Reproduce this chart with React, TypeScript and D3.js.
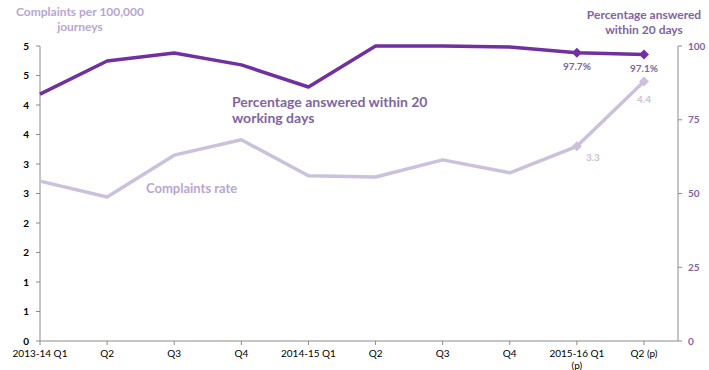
import React from "react";
import * as d3 from "d3";

const categories = ["2013-14 Q1", "Q2", "Q3", "Q4", "2014-15 Q1", "Q2", "Q3", "Q4", "2015-16 Q1|(p)", "Q2 (p)"];
const complaintsRate = [2.71, 2.44, 3.15, 3.41, 2.8, 2.78, 3.07, 2.85, 3.3, 4.4];
const pctAnswered = [83.7, 94.9, 97.6, 93.6, 86.1, 100, 100, 99.7, 97.7, 97.1];
const leftTicks = [0, 0.5, 1, 1.5, 2, 2.5, 3, 3.5, 4, 4.5, 5];
const rightTicks = [0, 25, 50, 75, 100];

const DARK = "#7030a0";
const LIGHT = "#ccc1dc";
const DARK_TEXT = "#8064a2";
const LIGHT_TEXT = "#b8a6d2";
const FONT = "Lato, 'Open Sans', sans-serif";

export default function App() {
  const W = 709, H = 370;
  const xLeft = 40, xRight = 678, yTop = 46, yBot = 341;
  const x = d3.scalePoint<number>().domain(categories.map((_, i) => i)).range([xLeft, 644]);
  const yL = d3.scaleLinear().domain([0, 5]).range([yBot, yTop]);
  const yR = d3.scaleLinear().domain([0, 100]).range([yBot, yTop]);

  const lineL = d3.line<number>().x((_, i) => x(i)!).y((d) => yL(d));
  const lineR = d3.line<number>().x((_, i) => x(i)!).y((d) => yR(d));
  const diamond = d3.symbol().type(d3.symbolSquare).size(50)()!;

  const n = categories.length;
  return (
    <svg width={W} height={H} style={{ position: "absolute", left: 0, top: 0, fontFamily: FONT }}>
      <rect width={W} height={H} fill="#fff" />
      {/* axes */}
      <line x1={xLeft} x2={xLeft} y1={yTop} y2={yBot} stroke="#8c8c8c" />
      <line x1={xRight} x2={xRight} y1={yTop} y2={yBot} stroke="#8c8c8c" />
      <line x1={xLeft} x2={xRight} y1={yBot} y2={yBot} stroke="#8c8c8c" />
      {leftTicks.map((t) => (
        <g key={"l" + t}>
          <line x1={xLeft - 4} x2={xLeft} y1={yL(t)} y2={yL(t)} stroke="#8c8c8c" />
          <text x={xLeft - 11} y={yL(t) + 3.5} textAnchor="end" fontSize={10} fontWeight="bold" fill="#000">
            {d3.format(".0f")(Math.round(t))}
          </text>
        </g>
      ))}
      {rightTicks.map((t) => (
        <g key={"r" + t}>
          <line x1={xRight} x2={xRight + 4} y1={yR(t)} y2={yR(t)} stroke="#8c8c8c" />
          <text x={xRight + 10} y={yR(t) + 3.5} textAnchor="start" fontSize={10} fontWeight="bold" fill={DARK_TEXT}>
            {t}
          </text>
        </g>
      ))}
      {categories.map((c, i) => {
        const parts = c.split("|");
        return (
          <g key={"x" + i}>
            <line x1={x(i)!} x2={x(i)!} y1={yBot} y2={yBot + 4} stroke="#8c8c8c" />
            {parts.map((p, j) => (
              <text key={j} x={x(i)!} y={yBot + 16 + j * 12} textAnchor="middle" fontSize={10} fill="#000">
                {p}
              </text>
            ))}
          </g>
        );
      })}
      {/* lines */}
      <path d={lineL(complaintsRate)!} fill="none" stroke={LIGHT} strokeWidth={3.5} strokeLinejoin="round" />
      <path d={lineR(pctAnswered)!} fill="none" stroke={DARK} strokeWidth={3.5} strokeLinejoin="round" />
      {[n - 2, n - 1].map((i) => (
        <g key={"m" + i}>
          <path d={diamond} transform={`translate(${x(i)},${yL(complaintsRate[i])}) rotate(45)`} fill={LIGHT} />
          <path d={diamond} transform={`translate(${x(i)},${yR(pctAnswered[i])}) rotate(45)`} fill={DARK} />
          <text x={x(i)!} y={yR(pctAnswered[i]) + 17} textAnchor="middle" fontSize={10} fontWeight="bold" fill={DARK_TEXT}>
            {d3.format(".1f")(pctAnswered[i])}%
          </text>
        </g>
      ))}
      <text x={x(n - 2)! + 16} y={yL(complaintsRate[n - 2]) + 15} textAnchor="middle" fontSize={10} fontWeight="bold" fill={LIGHT}>
        {d3.format(".1f")(complaintsRate[n - 2])}
      </text>
      <text x={x(n - 1)!} y={yL(complaintsRate[n - 1]) + 22} textAnchor="middle" fontSize={10} fontWeight="bold" fill={LIGHT}>
        {d3.format(".1f")(complaintsRate[n - 1])}
      </text>
      {/* titles */}
      <text x={80} y={16} textAnchor="middle" fontSize={12} fontWeight="bold" fill={LIGHT_TEXT}>Complaints  per 100,000</text>
      <text x={80} y={31} textAnchor="middle" fontSize={12} fontWeight="bold" fill={LIGHT_TEXT}>journeys</text>
      <text x={644} y={19} textAnchor="middle" fontSize={12} fontWeight="bold" fill={DARK_TEXT}>Percentage answered</text>
      <text x={644} y={34} textAnchor="middle" fontSize={12} fontWeight="bold" fill={DARK_TEXT}>within 20 days</text>
      <text x={232} y={107} textAnchor="start" fontSize={14} fontWeight="bold" fill={DARK_TEXT}>Percentage answered within 20</text>
      <text x={232} y={123} textAnchor="start" fontSize={14} fontWeight="bold" fill={DARK_TEXT}>working days</text>
      <text x={146} y={193} textAnchor="start" fontSize={13} fontWeight="bold" fill={LIGHT_TEXT}>Complaints rate</text>
    </svg>
  );
}
